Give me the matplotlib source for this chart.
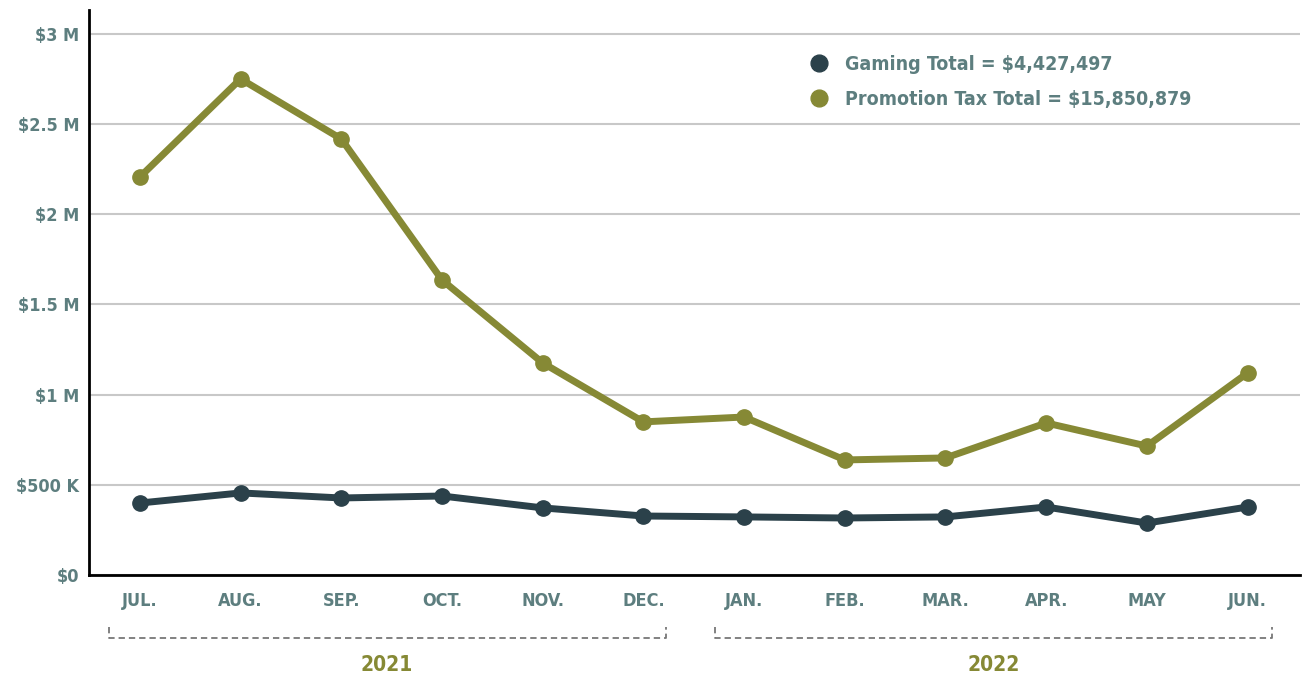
import numpy as np
import matplotlib.pyplot as plt
import matplotlib.transforms as mtransforms
from matplotlib.ticker import FuncFormatter

# monthly values, fiscal year Jul 2021 - Jun 2022
months = ["JUL.", "AUG.", "SEP.", "OCT.", "NOV.", "DEC.",
          "JAN.", "FEB.", "MAR.", "APR.", "MAY", "JUN."]
gaming = [399000, 455000, 427000, 438000, 372000, 327000,
          322000, 316000, 322000, 377000, 288000, 377000]
promotion = [2207000, 2751000, 2418000, 1636000, 1176000, 849000,
             876000, 638000, 649000, 843000, 715000, 1120000]
gaming_label = "Gaming Total = $4,427,497"
promotion_label = "Promotion Tax Total = $15,850,879"
years = ["2021", "2022"]
yticks = [0, 500000, 1000000, 1500000, 2000000, 2500000, 3000000]

dark = "#2b414a"
olive = "#868935"
txt = "#5d7e7f"

plt.rcParams['font.family'] = ['DejaVu Sans']
plt.rcParams['font.stretch'] = 'condensed'

fig = plt.figure(figsize=(13.12, 6.77), dpi=100)
ax = fig.add_axes([0.0678, 0.1507, 0.923, 0.8345])

x = np.arange(len(months))
ax.plot(x, gaming, color=dark, lw=5, marker='o', ms=11, label=gaming_label,
        solid_capstyle='round', zorder=3)
ax.plot(x, promotion, color=olive, lw=5, marker='o', ms=11, label=promotion_label,
        solid_capstyle='round', zorder=3)

ax.set_xlim(-0.506, 11.52)
ax.set_ylim(0, 3133000)
ax.set_yticks(yticks)


def money(v, pos):
    if v == 0:
        return "$0"
    if v >= 1e6:
        return "${:g} M".format(v / 1e6)
    return "${:g} K".format(v / 1e3)


ax.yaxis.set_major_formatter(FuncFormatter(money))
ax.set_xticks(x)
ax.set_xticklabels(months)

for lab in ax.get_xticklabels() + ax.get_yticklabels():
    lab.set_fontweight('bold')
    lab.set_fontstretch('condensed')
    lab.set_color(txt)
    lab.set_fontsize(13)

ax.tick_params(axis='both', length=0)
ax.tick_params(axis='x', pad=12)
ax.tick_params(axis='y', pad=7)
ax.grid(axis='y', color='#c8c8c8', lw=1.5)
ax.set_axisbelow(True)
for s in ['top', 'right']:
    ax.spines[s].set_visible(False)
for s in ['left', 'bottom']:
    ax.spines[s].set_linewidth(2)
    ax.spines[s].set_color('black')
    ax.spines[s].set_zorder(4)

leg = ax.legend(loc='upper left', bbox_to_anchor=(0.5888, 0.952), frameon=False,
                handlelength=0, handletextpad=1.3, labelspacing=0.85,
                prop={'weight': 'bold', 'size': 14, 'stretch': 'condensed'},
                labelcolor=txt, markerscale=1.1)
for h in leg.legend_handles:
    h.set_linestyle('none')

# year brackets below the month labels
trans = mtransforms.blended_transform_factory(ax.transData, ax.transAxes)
brackets = [(-0.31, 5.22), (5.71, 11.24)]
for (a, b), yr in zip(brackets, years):
    ax.plot([a, a, b, b], [-0.092, -0.1115, -0.1115, -0.092], transform=trans,
            color='#777777', lw=1.3, ls=(0, (3.5, 2.2)), clip_on=False)
    ax.text((a + b) / 2, -0.159, yr, transform=trans, ha='center', va='center',
            color=olive, fontsize=15, fontweight='bold', fontstretch='condensed')

fig.savefig("out.png", dpi=100)
